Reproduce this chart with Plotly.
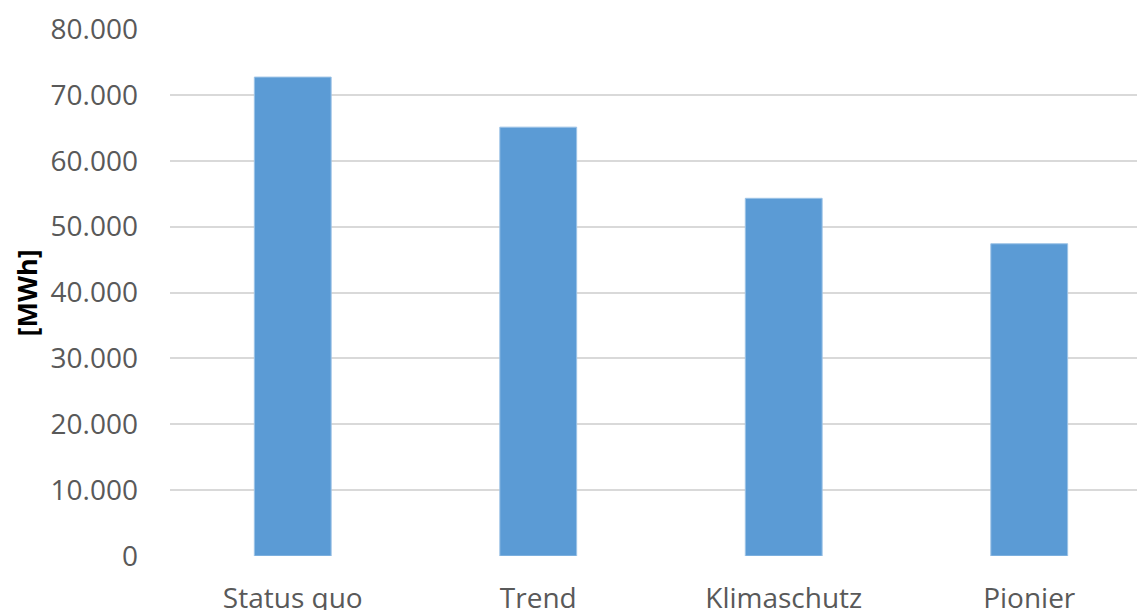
import plotly.graph_objects as go

# Annual energy demand per scenario, in MWh
scenarios = ["Status quo", "Trend", "Klimaschutz", "Pionier"]
demand_mwh = [72700, 65100, 54300, 47400]
y_ticks = [0, 10000, 20000, 30000, 40000, 50000, 60000, 70000, 80000]

W, H = 1137, 610
M_L, M_R, M_T, M_B = 170, 0, 29, 54
TEXT = "#595959"
FONT = "Open Sans"

fig = go.Figure(
    go.Bar(
        x=scenarios,
        y=demand_mwh,
        width=0.313,
        marker=dict(color="#5B9BD5", line=dict(color="#9DC3E6", width=1)),
    )
)

fig.update_layout(
    width=W,
    height=H,
    margin=dict(l=M_L, r=M_R, t=M_T, b=M_B, pad=0),
    paper_bgcolor="white",
    plot_bgcolor="white",
    separators=",.",
    showlegend=False,
    font=dict(family=FONT, size=28, color=TEXT),
    xaxis=dict(
        type="category",
        range=[-0.5, 3.439],
        automargin=False,
        showgrid=False,
        showline=False,
        zeroline=False,
        ticks="",
        ticklabelstandoff=23,
        tickfont=dict(family=FONT, size=28, color=TEXT),
    ),
    yaxis=dict(
        range=[0, 80000],
        automargin=False,
        tickvals=y_ticks,
        tickformat=",.0f",
        showgrid=True,
        gridcolor="#D9D9D9",
        gridwidth=2,
        zeroline=False,
        showline=False,
        ticks="",
        ticklabelstandoff=31,
        tickfont=dict(family=FONT, size=28, color=TEXT),
    ),
    annotations=[
        dict(
            text="<b>[MWh]</b>",
            textangle=-90,
            xref="paper",
            yref="paper",
            x=(25.5 - M_L) / (W - M_L - M_R),
            y=(H - M_B - 293) / (H - M_T - M_B),
            xanchor="center",
            yanchor="middle",
            showarrow=False,
            font=dict(family=FONT, size=27, color="black"),
        )
    ],
)

fig.write_html("out.html")
